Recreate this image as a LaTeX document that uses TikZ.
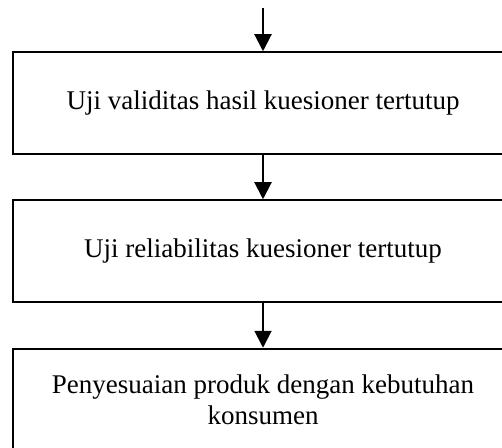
\documentclass[tikz,border=0pt]{standalone}
\usepackage{fontspec}
\setmainfont{Liberation Serif}
\usetikzlibrary{arrows.meta}

\begin{document}
\begin{tikzpicture}[x=0.5pt,y=-0.5pt]
    \tikzstyle{all nodes}=[inner sep=4pt]
    \tikzstyle{stepbox}=[draw,line width=1pt,minimum width=250pt,minimum height=51pt,
          align=center,font=\fontsize{13.5pt}{15.5pt}\selectfont]
    \tikzstyle{flow}=[line width=1pt,-{Triangle[width=8.5pt,length=8.5pt]}]
    \useasboundingbox (0,0) rectangle (502,448);
    \draw coordinate(start)at(263,8)
          node[stepbox](valid)at(263,103.25){Uji validitas hasil kuesioner tertutup}
          node[stepbox](reli)at(263,251.25){Uji reliabilitas kuesioner tertutup}
          node[stepbox](sesuai)at(263,399.75){Penyesuaian produk dengan kebutuhan\\konsumen};
    \draw[flow](start)--(valid);
    \draw[flow](valid)--(reli);
    \draw[flow](reli)--(sesuai);
\end{tikzpicture}
\end{document}
